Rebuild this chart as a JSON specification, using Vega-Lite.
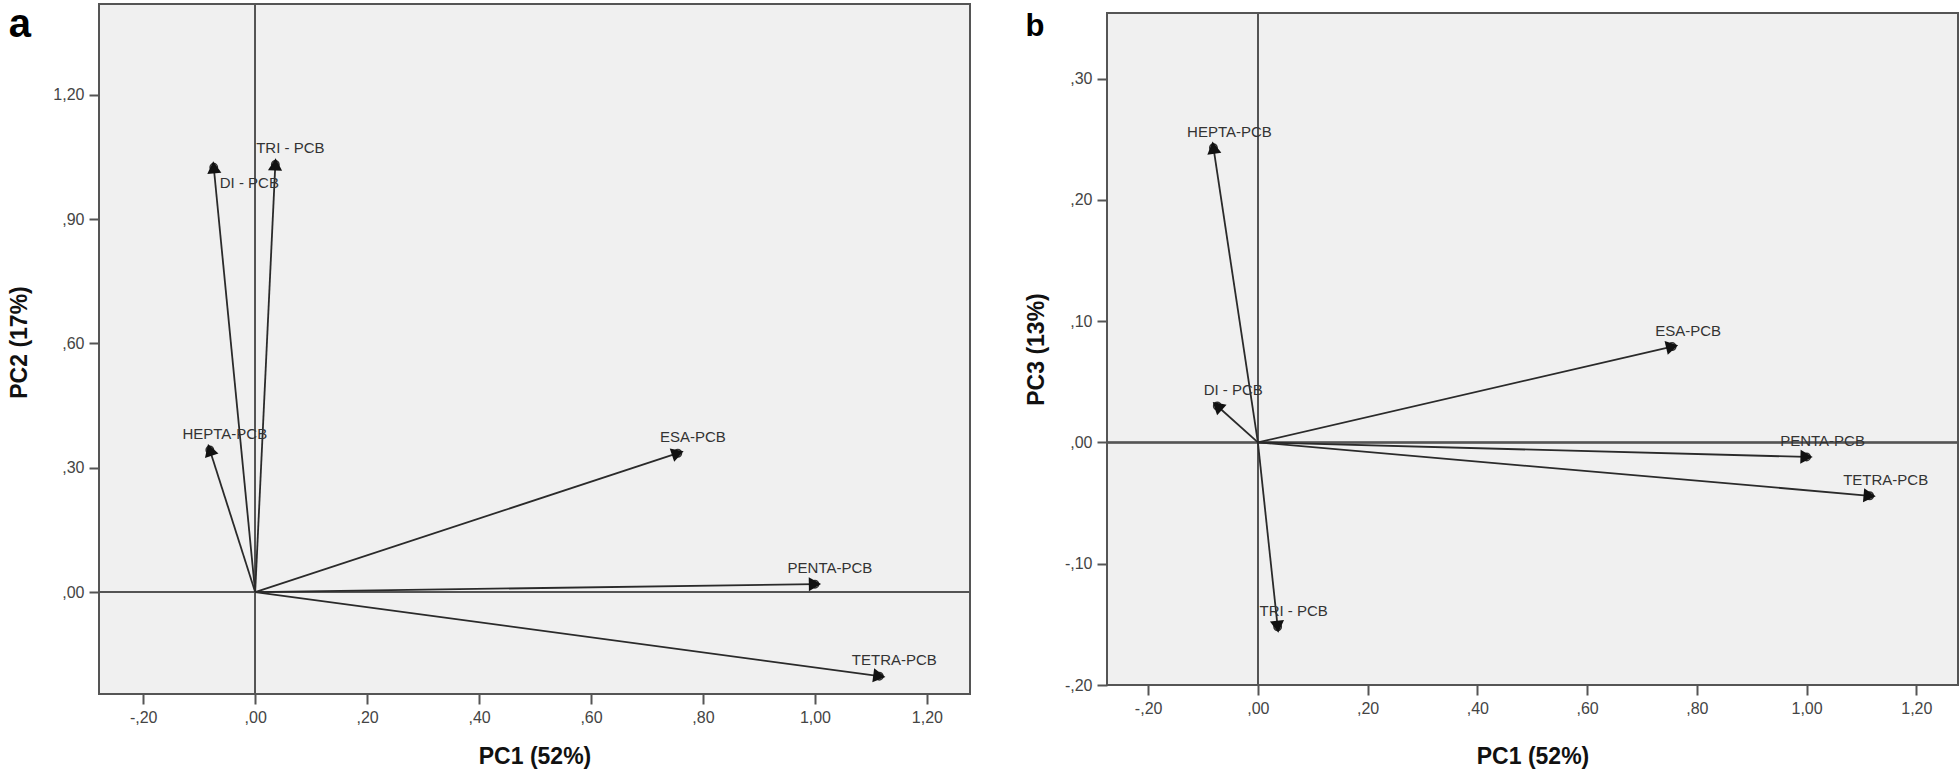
{
  "$schema": "https://vega.github.io/schema/vega-lite/v6.json",
  "background": "white",
  "padding": {"left": 7, "top": 2, "right": 0, "bottom": 0},
  "spacing": 52,
  "datasets": {
    "pa": [
      {"name": "DI - PCB", "pc1": -0.074, "pc2": 1.025},
      {"name": "TRI - PCB", "pc1": 0.036, "pc2": 1.032},
      {"name": "HEPTA-PCB", "pc1": -0.081, "pc2": 0.343},
      {"name": "ESA-PCB", "pc1": 0.755, "pc2": 0.335},
      {"name": "PENTA-PCB", "pc1": 1.0, "pc2": 0.019},
      {"name": "TETRA-PCB", "pc1": 1.115, "pc2": -0.203}
    ],
    "pb": [
      {"name": "DI - PCB", "pc1": -0.074, "pc3": 0.030},
      {"name": "TRI - PCB", "pc1": 0.036, "pc3": -0.152},
      {"name": "HEPTA-PCB", "pc1": -0.081, "pc3": 0.243},
      {"name": "ESA-PCB", "pc1": 0.755, "pc3": 0.079},
      {"name": "PENTA-PCB", "pc1": 1.0, "pc3": -0.012},
      {"name": "TETRA-PCB", "pc1": 1.115, "pc3": -0.044}
    ]
  },
  "config": {
    "view": {"fill": "#f0f0f0", "stroke": "#555555", "strokeWidth": 2},
    "axis": {
      "domain": false, "grid": false, "ticks": true, "tickSize": 10, "tickWidth": 2, "tickColor": "#555555",
      "labelFont": "Liberation Sans", "labelFontSize": 16, "labelColor": "#444444", "labelPadding": 5,
      "titleFont": "Liberation Sans", "titleFontSize": 23, "titleFontWeight": "bold", "titleColor": "#111111",
      "labelExpr": "replace(replace(replace(replace(format(datum.value,'.2f'),'\u2212','-'),'-0.','-,'),'0.',','),'.',',')"
    },
    "text": {"font": "Liberation Sans", "fontSize": 15, "color": "#333333"}
  },
  "hconcat": [
    {
      "width": 871, "height": 690,
      "title": {"text": "a", "anchor": "start", "frame": "bounds", "fontSize": 40, "font": "Liberation Sans", "fontWeight": "bold", "color": "#000000", "offset": -42, "baseline": "top"},
      "data": {"name": "pa"},
      "transform": [{"calculate": "atan2(datum.pc1*560, datum.pc2*414.4)*180/PI", "as": "ang"}],
      "layer": [
        {"mark": {"type": "rule", "color": "#555555", "strokeWidth": 1.5},
         "encoding": {"x": {"datum": 0, "type": "quantitative", "scale": {"domain": [-0.279, 1.277], "nice": false, "zero": false}}}},
        {"mark": {"type": "rule", "color": "#555555", "strokeWidth": 1.5},
         "encoding": {"y": {"datum": 0, "type": "quantitative", "scale": {"domain": [-0.246, 1.419], "nice": false, "zero": false}}}},
        {"mark": {"type": "rule", "color": "#2a2a2a", "strokeWidth": 1.8},
         "encoding": {
           "x": {"field": "pc1", "type": "quantitative", "scale": {"domain": [-0.279, 1.277], "nice": false, "zero": false},
                 "axis": {"values": [-0.2, 0, 0.2, 0.4, 0.6, 0.8, 1, 1.2], "title": "PC1 (52%)", "titlePadding": 20}},
           "y": {"field": "pc2", "type": "quantitative", "scale": {"domain": [-0.246, 1.419], "nice": false, "zero": false},
                 "axis": {"values": [0, 0.3, 0.6, 0.9, 1.2], "title": "PC2 (17%)", "titlePadding": 21, "titleY": 338}},
           "x2": {"datum": 0}, "y2": {"datum": 0}
         }},
        {"mark": {"type": "point", "filled": false, "size": 55, "color": "#333333", "strokeWidth": 1.5, "opacity": 1},
         "encoding": {"x": {"field": "pc1", "type": "quantitative"}, "y": {"field": "pc2", "type": "quantitative"}}},
        {"mark": {"type": "point", "filled": true, "shape": "triangle-up", "size": 200, "color": "#111111", "opacity": 1},
         "encoding": {"x": {"field": "pc1", "type": "quantitative"}, "y": {"field": "pc2", "type": "quantitative"},
                      "angle": {"field": "ang", "type": "quantitative", "scale": null}}},
        {"transform": [{"filter": "datum.name != 'DI - PCB'"}],
         "mark": {"type": "text", "align": "center", "baseline": "bottom", "dx": 15, "dy": -8},
         "encoding": {"x": {"field": "pc1", "type": "quantitative"}, "y": {"field": "pc2", "type": "quantitative"}, "text": {"field": "name"}}},
        {"transform": [{"filter": "datum.name == 'DI - PCB'"}],
         "mark": {"type": "text", "align": "left", "baseline": "top", "dx": 6, "dy": 9},
         "encoding": {"x": {"field": "pc1", "type": "quantitative"}, "y": {"field": "pc2", "type": "quantitative"}, "text": {"field": "name"}}}
      ]
    },
    {
      "spacing": 0,
      "vconcat": [
        {
          "width": 851, "height": 6,
          "view": {"fill": null, "stroke": null},
          "data": {"values": []},
          "mark": {"type": "point", "opacity": 0}
        },
        {
          "width": 851, "height": 672,
          "title": {"text": "b", "anchor": "start", "frame": "bounds", "fontSize": 31, "font": "Liberation Sans", "fontWeight": "bold", "color": "#000000", "offset": -31, "baseline": "top"},
          "data": {"name": "pb"},
          "transform": [{"calculate": "atan2(datum.pc1*548.5, datum.pc3*1215)*180/PI", "as": "ang"}],
          "layer": [
            {"mark": {"type": "rule", "color": "#555555", "strokeWidth": 1.5},
             "encoding": {"x": {"datum": 0, "type": "quantitative", "scale": {"domain": [-0.275, 1.276], "nice": false, "zero": false}}}},
            {"mark": {"type": "rule", "color": "#555555", "strokeWidth": 1.5},
             "encoding": {"y": {"datum": 0, "type": "quantitative", "scale": {"domain": [-0.2, 0.354], "nice": false, "zero": false}}}},
            {"mark": {"type": "rule", "color": "#2a2a2a", "strokeWidth": 1.8},
             "encoding": {
               "x": {"field": "pc1", "type": "quantitative", "scale": {"domain": [-0.275, 1.276], "nice": false, "zero": false},
                     "axis": {"values": [-0.2, 0, 0.2, 0.4, 0.6, 0.8, 1, 1.2], "title": "PC1 (52%)", "titlePadding": 29}},
               "y": {"field": "pc3", "type": "quantitative", "scale": {"domain": [-0.2, 0.354], "nice": false, "zero": false},
                     "axis": {"values": [-0.2, -0.1, 0, 0.1, 0.2, 0.3], "title": "PC3 (13%)", "titlePadding": 16}},
               "x2": {"datum": 0}, "y2": {"datum": 0}
             }},
            {"mark": {"type": "point", "filled": false, "size": 55, "color": "#333333", "strokeWidth": 1.5, "opacity": 1},
             "encoding": {"x": {"field": "pc1", "type": "quantitative"}, "y": {"field": "pc3", "type": "quantitative"}}},
            {"mark": {"type": "point", "filled": true, "shape": "triangle-up", "size": 200, "color": "#111111", "opacity": 1},
             "encoding": {"x": {"field": "pc1", "type": "quantitative"}, "y": {"field": "pc3", "type": "quantitative"},
                          "angle": {"field": "ang", "type": "quantitative", "scale": null}}},
            {"mark": {"type": "text", "align": "center", "baseline": "bottom", "dx": 16, "dy": -8},
             "encoding": {"x": {"field": "pc1", "type": "quantitative"}, "y": {"field": "pc3", "type": "quantitative"}, "text": {"field": "name"}}}
          ]
        }
      ]
    }
  ]
}
